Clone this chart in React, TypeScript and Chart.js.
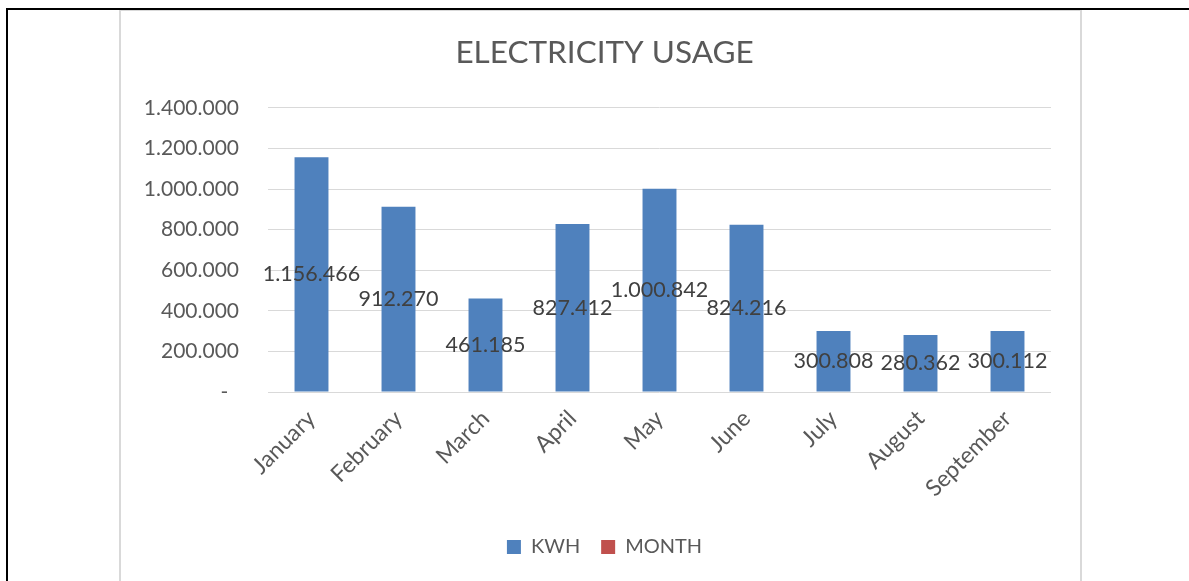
import React, { useEffect, useRef } from "react";
import { Chart, registerables } from "chart.js";

Chart.register(...registerables);

const categories = ["January", "February", "March", "April", "May", "June", "July", "August", "September"];
const kwhValues = [1156466, 912270, 461185, 827412, 1000842, 824216, 300808, 280362, 300112];
const monthValues: (number | null)[] = [null, null, null, null, null, null, null, null, null];
const chartTitle = "ELECTRICITY USAGE";
const seriesNames = ["KWH", "MONTH"];
const yMax = 1400000;
const yStep = 200000;

const FONT = "Lato, 'Open Sans', sans-serif";
const TEXT = "#595959";

function fmt(n: number): string {
  return Math.round(n).toString().replace(/\B(?=(\d{3})+(?!\d))/g, ".");
}

const labelPlugin = {
  id: "centerLabels",
  afterDatasetsDraw(chart: any) {
    const ctx = chart.ctx;
    const meta = chart.getDatasetMeta(0);
    ctx.save();
    ctx.font = `21.5px ${FONT}`;
    ctx.fillStyle = "#404040";
    ctx.textAlign = "center";
    ctx.textBaseline = "middle";
    meta.data.forEach((el: any, i: number) => {
      const v = kwhValues[i];
      const y = (el.y + el.base) / 2;
      ctx.fillText(fmt(v), el.x, y);
    });
    ctx.restore();
  },
};

export default function App() {
  const ref = useRef<HTMLCanvasElement>(null);
  useEffect(() => {
    if (!ref.current) return;
    const chart = new Chart(ref.current, {
      type: "bar",
      data: {
        labels: categories,
        datasets: [
          { label: seriesNames[0], data: kwhValues, backgroundColor: "#4f81bd", yAxisID: "y" },
          { label: seriesNames[1], data: monthValues as any, backgroundColor: "#c0504d", yAxisID: "y" },
        ],
      },
      plugins: [labelPlugin],
      options: {
        animation: false,
        responsive: false,
        maintainAspectRatio: false,
        layout: { padding: { left: 8, right: 0, top: 0, bottom: 14 } },
        datasets: { bar: { grouped: false, barPercentage: 0.39, categoryPercentage: 1 } } as any,
        plugins: {
          title: {
            display: true,
            text: chartTitle,
            color: TEXT,
            font: { family: FONT, size: 31.5, weight: "normal" as any },
            padding: { top: 23, bottom: 36 },
            align: "center",
          },
          legend: {
            display: true,
            position: "bottom",
            labels: {
              boxWidth: 14,
              boxHeight: 14,
              padding: 21,
              color: TEXT,
              font: { family: FONT, size: 20 },
            },
          },
          tooltip: { enabled: false },
        },
        scales: {
          x: {
            grid: { display: false },
            border: { display: false },
            ticks: {
              color: TEXT,
              font: { family: FONT, size: 23 },
              minRotation: 45,
              maxRotation: 45,
              padding: 5,
            },
            afterFit: (s: any) => {
              s.height = 124;
            },
          },
          y: {
            min: 0,
            max: yMax,
            grid: { color: "#d9d9d9", lineWidth: 1, drawTicks: false },
            border: { display: false },
            ticks: {
              stepSize: yStep,
              color: TEXT,
              padding: 29,
              font: { family: FONT, size: 21 },
              callback: (v: any) => (Number(v) === 0 ? "-  " : fmt(Number(v))),
            },
            afterFit: (s: any) => {
              s.width = 139;
            },
          },
          yRight: {
            type: "linear",
            position: "right",
            display: true,
            grid: { display: false },
            border: { display: false },
            ticks: { display: false },
            afterFit: (s: any) => {
              s.width = 29;
            },
          },
        },
      },
    });
    return () => chart.destroy();
  }, []);

  return (
    <div style={{ position: "fixed", left: 0, top: 0, width: 1189, height: 581, overflow: "hidden", background: "#fff" }}>
      <div style={{ position: "absolute", left: 6, top: 8, width: 1183, height: 2, background: "#000" }} />
      <div style={{ position: "absolute", left: 6, top: 8, width: 2, height: 573, background: "#000" }} />
      <div
        style={{
          position: "absolute",
          left: 119,
          top: 10,
          width: 959,
          height: 600,
          borderLeft: "2px solid #d9d9d9",
          borderRight: "2px solid #d9d9d9",
          borderTop: "1px solid #d9d9d9",
        }}
      />
      <canvas
        ref={ref}
        width={959}
        height={570}
        style={{ position: "absolute", left: 121, top: 11, width: 959, height: 570 }}
      />
    </div>
  );
}
